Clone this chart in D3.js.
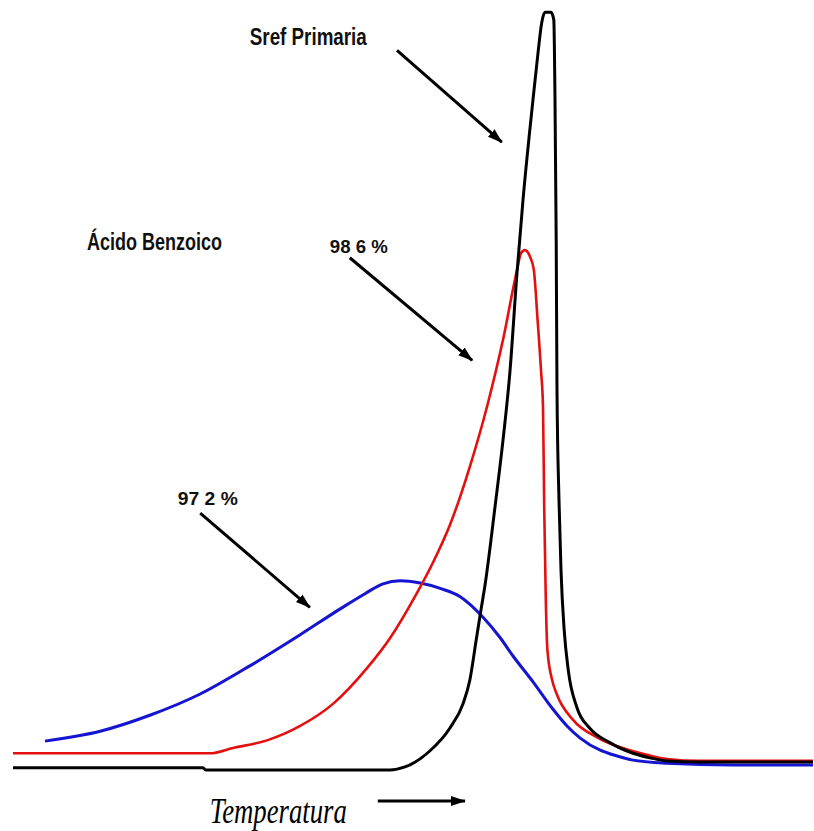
<!DOCTYPE html>
<html>
<head>
<meta charset="utf-8">
<script src="https://cdn.jsdelivr.net/npm/d3@7"></script>
<style>
  html, body { margin: 0; padding: 0; background: #fff; }
  svg { display: block; }
</style>
</head>
<body>
<svg id="chart" width="814" height="831"></svg>
<script>
// ---------- DATA (temperature, signal) in arbitrary units ----------
// Sref Primaria (black)
const srefPrimaria = [
  [0,0.3],[23.75,0.3],[24.1,0],[47.1,0],[49.0,0.4],[52.1,2.5],[54.6,5.5],[56.25,8.7],
  [57.1,11.8],[57.9,17.1],[58.5,21.1],[59.0,24.3],[60.25,34.6],[61.25,43.4],[62.1,52.2],
  [63.0,65.4],[63.75,75.0],[65.0,88.2],[65.6,94.1],[66.1,98.4],[66.5,99.7],[67.25,99.7],
  [67.6,98.7],[67.75,88.2],[67.9,69.7],[68.0,50.0],[68.25,35.5],[68.5,26.3],[68.9,18.4],
  [69.4,13.2],[70.5,8.2],[72.1,5.5],[74.6,3.6],[77.5,2.2],[79.6,1.6],[81.75,1.2],
  [85.9,1.05],[100,1.05]
];
// Ácido Benzoico 98.6 % (red)
const acido986 = [
  [0,2.2],[24.6,2.2],[27.5,2.9],[31.75,3.9],[35.9,5.8],[40.0,8.7],[44.25,13.4],[47.1,17.3],
  [50.5,23.3],[52.5,27.3],[54.6,32.2],[57.1,39.9],[59.25,47.8],[61.25,56.6],[63.0,65.8],[63.5,68.0],
  [64.0,68.4],[64.6,67.6],[65.1,65.8],[65.6,58.8],[66.0,52.6],[66.25,47.8],[66.4,34.6],
  [66.6,22.4],[66.8,15.8],[67.4,11.8],[68.0,9.9],[70.0,6.6],[73.0,4.3],[77.1,2.6],
  [79.25,2.0],[81.75,1.45],[85.9,1.2],[100,1.2]
];
// Ácido Benzoico 97.2 % (blue)
const acido972 = [
  [4.0,3.8],[10.9,5.1],[17.1,7.2],[23.4,10.0],[29.6,13.7],[35.9,17.8],[40.9,21.2],
  [44.0,23.2],[46.25,24.5],[48.4,24.9],[50.9,24.6],[53.4,23.9],[55.9,22.8],[58.75,20.1],
  [60.9,17.4],[62.5,15.0],[65.0,11.6],[67.5,8.0],[69.25,5.8],[70.9,4.2],[73.4,2.6],
  [75.0,2.0],[77.5,1.3],[81.75,0.9],[90.0,0.66],[100,0.66]
];
const seriesNames = ["Sref Primaria", "98 6 %", "97 2 %"];
const axisLabel = "Temperatura";
const titleLabel = "Ácido Benzoico";

// ---------- LAYOUT ----------
const svg = d3.select("#chart");
const x = d3.scaleLinear().domain([0, 100]).range([13, 813]);
const y = d3.scaleLinear().domain([0, 100]).range([770, 10]);

svg.append("rect").attr("width", 814).attr("height", 831).attr("fill", "#fff");

const defs = svg.append("defs");
defs.append("marker")
  .attr("id", "head")
  .attr("markerUnits", "userSpaceOnUse")
  .attr("viewBox", "0 0 15 11")
  .attr("refX", 14).attr("refY", 5.5)
  .attr("markerWidth", 15).attr("markerHeight", 11)
  .attr("orient", "auto")
  .append("path").attr("d", "M0,0.5 L15,5.5 L0,10.5 Z").attr("fill", "#000");

const line = d3.line().x(d => x(d[0])).y(d => y(d[1])).curve(d3.curveMonotoneX);

const curves = [
  { data: acido972, color: "#1414d2", width: 3 },
  { data: acido986, color: "#e41010", width: 2.6 },
  { data: srefPrimaria, color: "#000", width: 3 }
];
svg.selectAll("path.curve").data(curves).enter().append("path")
  .attr("class", "curve")
  .attr("d", d => line(d.data))
  .attr("fill", "none")
  .attr("stroke", d => d.color)
  .attr("stroke-width", d => d.width)
  .attr("stroke-linejoin", "round");

// annotation arrows (data units)
const arrows = [
  [[48.0, 94.7], [61.1, 82.6]],
  [[42.1, 67.4], [57.4, 53.9]],
  [[23.4, 33.8], [37.1, 21.4]]
];
svg.selectAll("line.arrow").data(arrows).enter().append("line")
  .attr("class", "arrow")
  .attr("x1", d => x(d[0][0])).attr("y1", d => y(d[0][1]))
  .attr("x2", d => x(d[1][0])).attr("y2", d => y(d[1][1]))
  .attr("stroke", "#000").attr("stroke-width", 3)
  .attr("marker-end", "url(#head)");

const sansBold = "'Liberation Sans Narrow','Arial Narrow','Liberation Sans',Arial,sans-serif";
const labels = [
  { text: seriesNames[0], tx: 29.6, ty: 95.4, size: 24, len: 117 },
  { text: titleLabel, tx: 9.25, ty: 68.4, size: 24, len: 135 },
  { text: seriesNames[1], tx: 39.6, ty: 68.0, size: 19, len: 58 },
  { text: seriesNames[2], tx: 20.6, ty: 34.9, size: 19, len: 60 }
];
svg.selectAll("text.lbl").data(labels).enter().append("text")
  .attr("class", "lbl")
  .attr("x", d => x(d.tx)).attr("y", d => y(d.ty))
  .attr("font-family", sansBold)
  .attr("font-weight", "bold")
  .attr("font-size", d => d.size)
  .attr("textLength", d => d.len)
  .attr("lengthAdjust", "spacingAndGlyphs")
  .attr("fill", "#111")
  .text(d => d.text);

// axis label with arrow
svg.append("text")
  .attr("x", x(24.6)).attr("y", 823)
  .attr("font-family", "'Liberation Serif','Times New Roman',serif")
  .attr("font-style", "italic")
  .attr("font-size", 36)
  .attr("textLength", 137)
  .attr("lengthAdjust", "spacingAndGlyphs")
  .attr("fill", "#000")
  .text(axisLabel);

svg.append("line")
  .attr("x1", x(45.6)).attr("y1", 801)
  .attr("x2", x(56.5)).attr("y2", 801)
  .attr("stroke", "#000").attr("stroke-width", 3)
  .attr("marker-end", "url(#head)");
</script>
</body>
</html>
